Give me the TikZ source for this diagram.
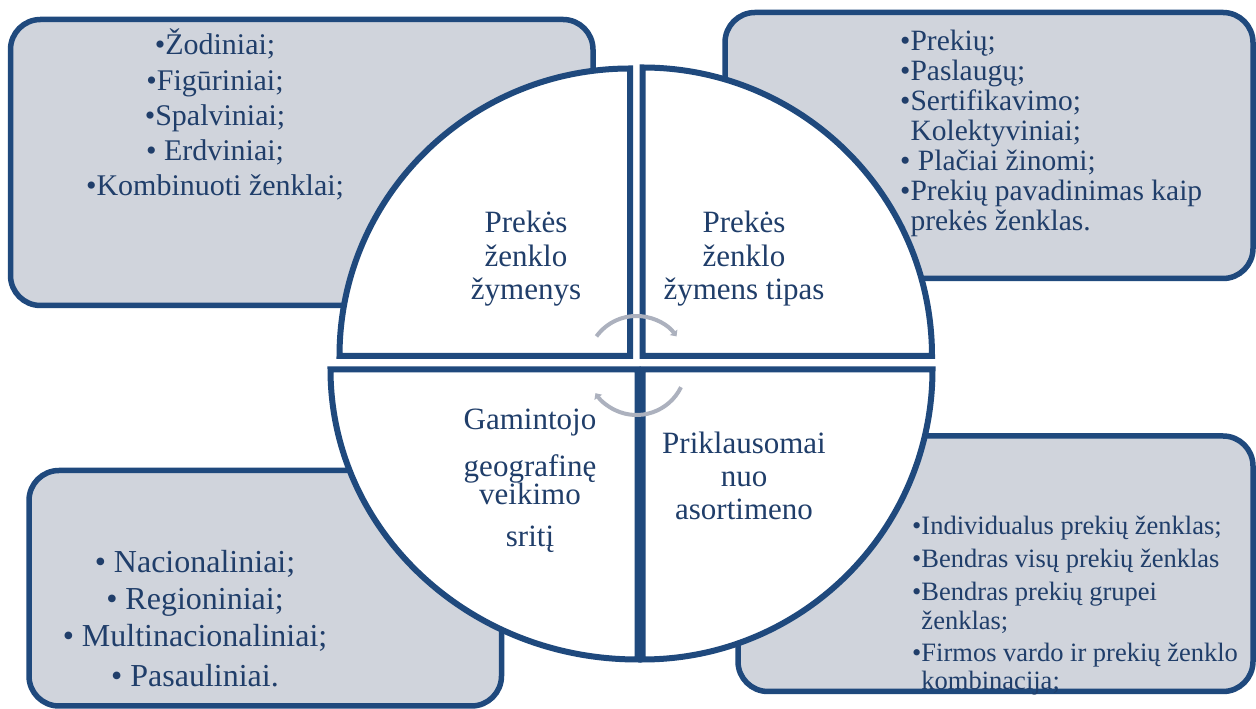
\documentclass[tikz,border=0pt]{standalone}
\usepackage{fontspec}
\setmainfont{Liberation Serif}
\usetikzlibrary{arrows.meta}
\definecolor{frame}{RGB}{31,73,125}
\definecolor{ink}{RGB}{32,62,106}
\definecolor{panel}{RGB}{208,212,220}
\definecolor{cyclegrey}{RGB}{172,177,190}
\begin{document}
\begin{tikzpicture}[x=1pt,y=1pt,
  panelbox/.style={draw=frame, fill=panel, line width=5.5pt, rounded corners=30pt, inner sep=0pt},
  quadrant/.style={draw=frame, fill=white, line width=6pt},
  cyc/.style={draw=cyclegrey, line width=4pt, -{Triangle[length=5pt,width=9pt]}},
  lbl/.style={inner sep=0pt, text=ink, anchor=base},
  lblw/.style={inner sep=0pt, text=ink, anchor=base west},
  centrefont/.style={font=\fontsize{31}{34}\selectfont},
]
\useasboundingbox (0,0) rectangle (1256,709);
\fill[white] (0,0) rectangle (1256,709);

% outer panels
\node[panelbox, minimum width=582.5pt, minimum height=286pt] (boxTL) at (301.75,546.5) {};
\node[panelbox, minimum width=528pt, minimum height=266pt] (boxTR) at (989,563.5) {};
\node[panelbox, minimum width=472.5pt, minimum height=235.5pt] (boxBL) at (265.25,120.75) {};
\node[panelbox, minimum width=515pt, minimum height=255.5pt] (boxBR) at (995.5,145.25) {};

% panel lists
\begin{scope}[font=\fontsize{30}{35}\selectfont]
\foreach \t [count=\i] in {{•Žodiniai;},{•Figūriniai;},{•Spalviniai;},{• Erdviniai;},{•Kombinuoti ženklai;}}
  \node[lbl] (tl\i) at ({215},{654-35.25*(\i-1)}) {\t};
\end{scope}

\begin{scope}[font=\fontsize{29.5}{30}\selectfont]
\foreach \t [count=\i] in {{•Prekių;},{•Paslaugų;},{•Sertifikavimo;},{\hphantom{•}Kolektyviniai;},{• Plačiai žinomi;},{•Prekių pavadinimas kaip},{\hphantom{•}prekės ženklas.}}
  \node[lblw] (tr\i) at ({900},{658-30*(\i-1)}) {\t};
\end{scope}

\begin{scope}[font=\fontsize{32}{38}\selectfont]
\foreach \y/\t [count=\i] in {136/{• Nacionaliniai;},99/{• Regioniniai;},62/{• Multinacionaliniai;},22/{• Pasauliniai.}}
  \node[lbl] (bl\i) at (195,\y) {\t};
\end{scope}

\begin{scope}[font=\fontsize{26.5}{30}\selectfont]
\foreach \y/\t [count=\i] in {174/{•Individualus prekių ženklas;},141/{•Bendras visų prekių ženklas},108/{•Bendras prekių grupei},79/{\hphantom{•}ženklas;},47/{•Firmos vardo ir prekių ženklo},19/{\hphantom{•}kombinacija;}}
  \node[lblw] (br\i) at (912,\y) {\t};
\end{scope}

% the four quadrants of the central disc
\draw[quadrant] (630,353) -- (339.5,353) arc[start angle=180,end angle=90,x radius=290.5,y radius=287.5] -- cycle;
\draw[quadrant] (642.5,353) -- (642.5,641.5) arc[start angle=90,end angle=0,x radius=289.5,y radius=288.5] -- cycle;
\draw[quadrant] (637.5,339.5) -- (330.5,339.5) arc[start angle=180,end angle=270,x radius=307,y radius=290] -- cycle;
\draw[quadrant] (642.5,339.5) -- (642.5,49.5) arc[start angle=270,end angle=360,x radius=290,y radius=290] -- cycle;

% quadrant titles
\begin{scope}[centrefont]
\foreach \y/\t [count=\i] in {476/Prekės,442.5/ženklo,409/žymenys}
  \node[lbl] (qa\i) at (526,\y) {\t};
\foreach \y/\t [count=\i] in {476/Prekės,442.5/ženklo,409/žymens tipas}
  \node[lbl] (qb\i) at (744,\y) {\t};
\foreach \y/\t [count=\i] in {279/Gamintojo,232/geografinę,204/veikimo,162/sritį}
  \node[lbl] (qc\i) at (530,\y) {\t};
\foreach \y/\t [count=\i] in {255/Priklausomai,222/nuo,189/asortimeno}
  \node[lbl] (qd\i) at (744,\y) {\t};
\end{scope}

% circular arrows in the hub
\coordinate (hub) at (636.5,343.5);
\draw[cyc] (hub) ++(144:49.5) arc[start angle=144,end angle=36,radius=49.5];
\draw[cyc] (hub) ++(-26:49.5) arc[start angle=-26,end angle=-146,radius=49.5];
\end{tikzpicture}
\end{document}
